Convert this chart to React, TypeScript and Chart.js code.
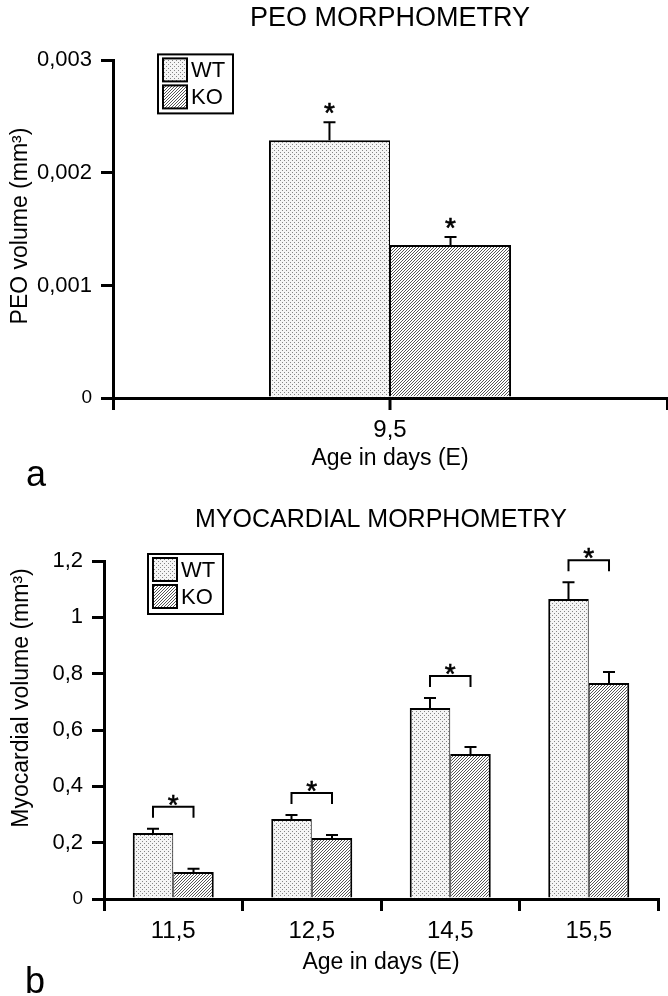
import React, { useEffect, useRef } from 'react';
import { Chart, registerables } from 'chart.js';

Chart.register(...registerables);

// ---------- DATA ----------
const seriesLabels = ['WT', 'KO'];

const peoTitle = 'PEO MORPHOMETRY';
const peoCategories = ['9,5'];
const peoWT = [0.00229];
const peoWTErr = [0.00016];
const peoKO = [0.00136];
const peoKOErr = [0.00007];
const peoYTicks = [0, 0.001, 0.002, 0.003];

const myoTitle = 'MYOCARDIAL MORPHOMETRY';
const myoCategories = ['11,5', '12,5', '14,5', '15,5'];
const myoWT = [0.234, 0.284, 0.678, 1.065];
const myoWTErr = [0.015, 0.014, 0.036, 0.06];
const myoKO = [0.096, 0.217, 0.515, 0.767];
const myoKOErr = [0.011, 0.01, 0.025, 0.039];
const myoYTicks = [0, 0.2, 0.4, 0.6, 0.8, 1, 1.2];

const xTitle = 'Age in days (E)';
const peoYTitle = 'PEO volume (mm³)';
const myoYTitle = 'Myocardial volume (mm³)';

// ---------- STYLE HELPERS ----------
const FONT = '"Liberation Sans", Arial, Helvetica, sans-serif';

function makeDots(ctx: CanvasRenderingContext2D) {
  const c = document.createElement('canvas');
  c.width = 4;
  c.height = 4;
  const g = c.getContext('2d')!;
  g.fillStyle = '#f5f5f5';
  g.fillRect(0, 0, 4, 4);
  g.fillStyle = '#858585';
  g.fillRect(0, 0, 1, 1);
  g.fillRect(2, 2, 1, 1);
  return ctx.createPattern(c, 'repeat')!;
}

function makeHatch(ctx: CanvasRenderingContext2D) {
  const c = document.createElement('canvas');
  c.width = 3;
  c.height = 3;
  const g = c.getContext('2d')!;
  g.fillStyle = '#ffffff';
  g.fillRect(0, 0, 3, 3);
  g.fillStyle = '#555555';
  g.fillRect(2, 0, 1, 1);
  g.fillRect(1, 1, 1, 1);
  g.fillRect(0, 2, 1, 1);
  return ctx.createPattern(c, 'repeat')!;
}

function drawStar(ctx: CanvasRenderingContext2D, x: number, yc: number) {
  ctx.save();
  ctx.fillStyle = '#000';
  ctx.strokeStyle = '#000';
  ctx.lineWidth = 0.6;
  ctx.font = `28px ${FONT}`;
  ctx.textAlign = 'center';
  ctx.textBaseline = 'alphabetic';
  ctx.fillText('*', x, yc + 16);
  ctx.strokeText('*', x, yc + 16);
  ctx.restore();
}

type AnnotOpts = {
  yTitle: string;
  yTitleX: number;
  yTitleY: number;
  legendDX: number;
  legendDY: number;
  legendH: number;
  letter: string;
  letterX: number;
  letterY: number;
  mode: 'single' | 'bracket';
  centerTick: boolean;
};

function makeAnnotPlugin(o: AnnotOpts) {
  return {
    id: 'annot',
    afterDraw(chart: any) {
      const ctx: CanvasRenderingContext2D = chart.ctx;
      const ys = chart.scales.y;
      const xs = chart.scales.x;
      const ca = chart.chartArea;
      const metas = chart.data.datasets.map((_: any, i: number) => chart.getDatasetMeta(i));

      // error bars
      chart.data.datasets.forEach((ds: any, di: number) => {
        metas[di].data.forEach((bar: any, i: number) => {
          const top = ys.getPixelForValue(ds.data[i] + ds.errors[i]);
          ctx.save();
          ctx.strokeStyle = '#000';
          ctx.lineWidth = 2;
          ctx.beginPath();
          ctx.moveTo(bar.x, bar.y);
          ctx.lineTo(bar.x, top);
          ctx.moveTo(bar.x - 6, top);
          ctx.lineTo(bar.x + 6, top);
          ctx.stroke();
          ctx.restore();
        });
      });

      // significance marks
      const n = chart.data.labels.length;
      for (let i = 0; i < n; i++) {
        const tops = chart.data.datasets.map((ds: any) => ys.getPixelForValue(ds.data[i] + ds.errors[i]));
        const xsPos = metas.map((m: any) => m.data[i].x);
        if (o.mode === 'single') {
          xsPos.forEach((x: number, k: number) => drawStar(ctx, x, tops[k] - 16));
        } else {
          const by = Math.min(...tops) - 22;
          ctx.save();
          ctx.strokeStyle = '#000';
          ctx.lineWidth = 2;
          ctx.beginPath();
          ctx.moveTo(xsPos[0], by + 11);
          ctx.lineTo(xsPos[0], by);
          ctx.lineTo(xsPos[1], by);
          ctx.lineTo(xsPos[1], by + 11);
          ctx.stroke();
          ctx.restore();
          drawStar(ctx, (xsPos[0] + xsPos[1]) / 2, by - 9);
        }
      }

      // center tick on single-category axis
      if (o.centerTick) {
        const cx = xs.getPixelForValue(0);
        ctx.save();
        ctx.strokeStyle = '#000';
        ctx.lineWidth = 3;
        ctx.beginPath();
        ctx.moveTo(cx, ca.bottom);
        ctx.lineTo(cx, ca.bottom + 12);
        ctx.stroke();
        ctx.restore();
      }

      // legend
      const lx = ca.left + o.legendDX;
      const ly = ca.top + o.legendDY;
      ctx.save();
      ctx.lineWidth = 2;
      ctx.strokeStyle = '#000';
      ctx.fillStyle = '#fff';
      ctx.fillRect(lx, ly, 75, o.legendH);
      ctx.strokeRect(lx, ly, 75, o.legendH);
      chart.data.datasets.forEach((ds: any, k: number) => {
        const sy = ly + 4 + k * 27;
        ctx.fillStyle = ds.backgroundColor;
        ctx.fillRect(lx + 5, sy, 24, 23);
        ctx.strokeRect(lx + 5, sy, 24, 23);
        ctx.fillStyle = '#000';
        ctx.font = `22px ${FONT}`;
        ctx.textAlign = 'left';
        ctx.textBaseline = 'middle';
        ctx.fillText(ds.label, lx + 33, sy + 12.5);
      });
      ctx.restore();

      // y axis title
      ctx.save();
      ctx.translate(o.yTitleX, o.yTitleY);
      ctx.rotate(-Math.PI / 2);
      ctx.fillStyle = '#000';
      ctx.font = `23px ${FONT}`;
      ctx.textAlign = 'center';
      ctx.textBaseline = 'middle';
      ctx.fillText(o.yTitle, 0, 0);
      ctx.restore();

      // panel letter
      ctx.save();
      ctx.fillStyle = '#000';
      ctx.font = `36px ${FONT}`;
      ctx.textAlign = 'left';
      ctx.textBaseline = 'alphabetic';
      ctx.fillText(o.letter, o.letterX, o.letterY);
      ctx.restore();
    },
  };
}

function barConfig(
  ctx: CanvasRenderingContext2D,
  p: {
    title: string;
    titlePad: { top: number; bottom: number };
    titleSize: number;
    labels: string[];
    wt: number[];
    wtErr: number[];
    ko: number[];
    koErr: number[];
    yTicks: number[];
    yMax: number;
    decimals: number;
    yWidth: number;
    xHeight: number;
    rightPad: number;
    catPct: number;
    xTitlePadBottom: number;
    annot: AnnotOpts;
  }
): any {
  const dots = makeDots(ctx);
  const hatch = makeHatch(ctx);
  const fmt = (v: number) =>
    v === 0 ? '0' : String(parseFloat(v.toFixed(p.decimals))).replace('.', ',');
  return {
    type: 'bar',
    data: {
      labels: p.labels,
      datasets: [
        {
          label: seriesLabels[0],
          data: p.wt,
          errors: p.wtErr,
          backgroundColor: dots,
          borderColor: '#000',
          borderWidth: { top: 2, left: 2, right: 1, bottom: 0 },
          categoryPercentage: p.catPct,
          barPercentage: 1,
        },
        {
          label: seriesLabels[1],
          data: p.ko,
          errors: p.koErr,
          backgroundColor: hatch,
          borderColor: '#000',
          borderWidth: { top: 2, left: 1, right: 2, bottom: 0 },
          categoryPercentage: p.catPct,
          barPercentage: 1,
        },
      ],
    },
    options: {
      responsive: false,
      animation: false,
      events: [],
      layout: { padding: { left: 0, right: p.rightPad, top: 0, bottom: 0 } },
      plugins: {
        legend: { display: false },
        tooltip: { enabled: false },
        title: {
          display: true,
          text: p.title,
          fullSize: false,
          color: '#000',
          font: { family: FONT, size: p.titleSize, weight: 'normal' },
          padding: p.titlePad,
        },
      },
      scales: {
        x: {
          offset: true,
          z: 1,
          grid: {
            display: true,
            offset: true,
            drawOnChartArea: false,
            drawTicks: true,
            tickLength: 12,
            color: '#000',
            lineWidth: 3,
          },
          border: { display: true, color: '#000', width: 3 },
          ticks: {
            color: '#000',
            font: { family: FONT, size: 24 },
            padding: 6,
            maxRotation: 0,
            autoSkip: false,
          },
          title: {
            display: true,
            text: xTitle,
            color: '#000',
            font: { family: FONT, size: 23 },
            padding: { top: 0, bottom: p.xTitlePadBottom },
          },
          afterFit: (s: any) => {
            s.height = p.xHeight;
          },
        },
        y: {
          min: 0,
          max: p.yMax,
          z: 1,
          afterBuildTicks: (s: any) => {
            s.ticks = p.yTicks.map((v) => ({ value: v }));
          },
          grid: {
            display: true,
            drawOnChartArea: false,
            drawTicks: true,
            tickLength: 12,
            color: '#000',
            lineWidth: 3,
          },
          border: { display: true, color: '#000', width: 3 },
          ticks: {
            color: '#000',
            padding: 9,
            font: (c: any) => ({
              family: FONT,
              size: c.tick && c.tick.value === 0 ? 19 : 22,
            }),
            callback: (v: any) => fmt(Number(v)),
          },
          afterFit: (s: any) => {
            s.width = p.yWidth;
          },
        },
      },
    },
    plugins: [makeAnnotPlugin(p.annot)],
  };
}

export default function App() {
  const topRef = useRef<HTMLCanvasElement>(null);
  const botRef = useRef<HTMLCanvasElement>(null);

  useEffect(() => {
    const tc = topRef.current!;
    const bc = botRef.current!;
    const c1 = new Chart(
      tc,
      barConfig(tc.getContext('2d')!, {
        title: peoTitle,
        titlePad: { top: 2, bottom: 26 },
        titleSize: 27,
        labels: peoCategories,
        wt: peoWT,
        wtErr: peoWTErr,
        ko: peoKO,
        koErr: peoKOErr,
        yTicks: peoYTicks,
        yMax: 0.003,
        decimals: 3,
        yWidth: 113,
        xHeight: 97,
        rightPad: 1,
        catPct: 0.437,
        xTitlePadBottom: 23,
        annot: {
          yTitle: peoYTitle,
          yTitleX: 21,
          yTitleY: 226,
          legendDX: 45,
          legendDY: -6,
          legendH: 59,
          letter: 'a',
          letterX: 26,
          letterY: 486,
          mode: 'single',
          centerTick: true,
        },
      })
    );
    const c2 = new Chart(
      bc,
      barConfig(bc.getContext('2d')!, {
        title: myoTitle,
        titlePad: { top: 10, bottom: 26 },
        titleSize: 25,
        labels: myoCategories,
        wt: myoWT,
        wtErr: myoWTErr,
        ko: myoKO,
        koErr: myoKOErr,
        yTicks: myoYTicks,
        yMax: 1.2,
        decimals: 1,
        yWidth: 104,
        xHeight: 97,
        rightPad: 10,
        catPct: 0.585,
        xTitlePadBottom: 20,
        annot: {
          yTitle: myoYTitle,
          yTitleX: 22,
          yTitleY: 203,
          legendDX: 44,
          legendDY: -7,
          legendH: 60,
          letter: 'b',
          letterX: 25,
          letterY: 498,
          mode: 'bracket',
          centerTick: false,
        },
      })
    );
    return () => {
      c1.destroy();
      c2.destroy();
    };
  }, []);

  return (
    <div
      style={{
        position: 'absolute',
        left: 0,
        top: 0,
        width: 668,
        height: 996,
        background: '#fff',
      }}
    >
      <canvas
        ref={topRef}
        width={668}
        height={495}
        style={{ position: 'absolute', left: 0, top: 0, display: 'block' }}
      />
      <canvas
        ref={botRef}
        width={668}
        height={501}
        style={{ position: 'absolute', left: 0, top: 495, display: 'block' }}
      />
    </div>
  );
}
